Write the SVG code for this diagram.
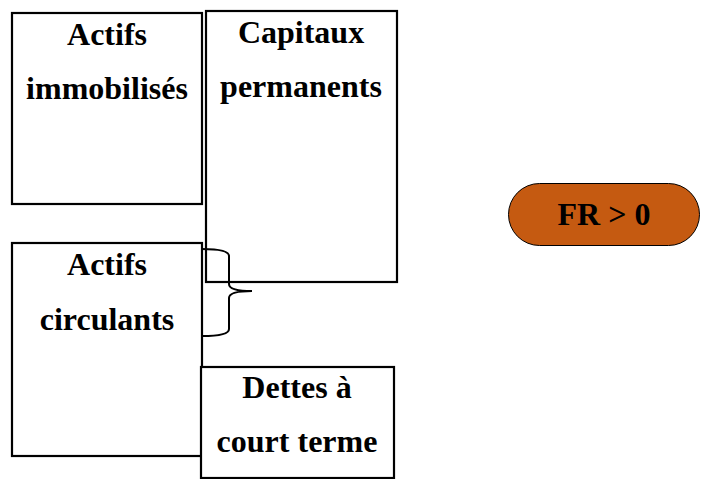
<svg xmlns="http://www.w3.org/2000/svg" width="701" height="479" viewBox="0 0 701 479">
  <style>
    .box { fill: #ffffff; stroke: #000000; stroke-width: 2.2; }
    .lbl { font-family: "Liberation Serif", "Times New Roman", serif; font-weight: bold; font-size: 32px; fill: #000000; text-anchor: middle; }
    .brace { fill: none; stroke: #000000; stroke-width: 2; }
    .pill { fill: #C55A11; stroke: #000000; stroke-width: 1; }
  </style>
  <rect width="701" height="479" fill="#ffffff"/>

  <g id="capitaux-permanents">
    <rect class="box" x="206" y="11" width="191" height="271"/>
    <text class="lbl" x="301" y="43">Capitaux</text>
    <text class="lbl" x="301" y="97">permanents</text>
  </g>

  <g id="actifs-immobilises">
    <rect class="box" x="12" y="13" width="190" height="191"/>
    <text class="lbl" x="107" y="45">Actifs</text>
    <text class="lbl" x="107" y="99">immobilisés</text>
  </g>

  <g id="actifs-circulants">
    <rect class="box" x="12" y="243" width="190" height="213"/>
    <text class="lbl" x="107" y="275">Actifs</text>
    <text class="lbl" x="107" y="330">circulants</text>
  </g>

  <g id="dettes-court-terme">
    <rect class="box" x="201" y="367" width="193" height="111"/>
    <text class="lbl" x="297" y="398">Dettes à</text>
    <text class="lbl" x="297" y="452">court terme</text>
  </g>

  <g id="connectors">
    <path class="brace" d="M202,249 Q229,249 229,256 L229,284 Q229,291 252,291 Q229,291 229,298 L229,329 Q229,336 202,336"/>
  </g>

  <g id="fr">
    <rect class="pill" x="508.5" y="183.5" width="191" height="62" rx="31" ry="31"/>
    <text class="lbl" x="604" y="225">FR &gt; 0</text>
  </g>
</svg>
